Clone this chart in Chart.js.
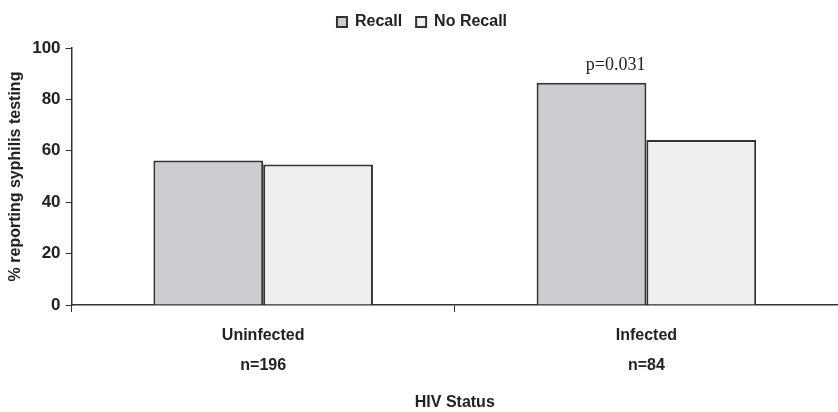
<html>
<head>
    <meta charset="UTF-8">
    <title>Syphilis testing by HIV status</title>
    <script src="https://cdn.jsdelivr.net/npm/chart.js"></script>
    <style>
        body { margin: 0; background: #fff; }
        #wrap { width: 838px; height: 412px; }
    </style>
</head>
<body>
<div id="wrap">
    <canvas id="chart" width="838" height="412"></canvas>
</div>
<script>
    const categories = [["Uninfected", "n=196"], ["Infected", "n=84"]];
    const recallValues = [56.2, 86.5];
    const noRecallValues = [54.7, 64.2];
    const yTicks = [0, 20, 40, 60, 80, 100];
    const pLabel = "p=0.031";

    const narrow = "'Liberation Sans Narrow', 'Arial Narrow', 'Liberation Sans', sans-serif";

    // p-value text over the Infected pair
    const pValuePlugin = {
        id: 'pvalue',
        afterDatasetsDraw(chart) {
            const ctx = chart.ctx;
            const bar = chart.getDatasetMeta(0).data[1];
            const y = chart.scales.y.getPixelForValue(93.3);
            ctx.save();
            ctx.font = "18px 'Liberation Serif', 'Times New Roman', serif";
            ctx.fillStyle = '#222';
            ctx.textAlign = 'center';
            ctx.textBaseline = 'middle';
            ctx.fillText(pLabel, bar.x + bar.width * 0.22, y);
            ctx.restore();
        }
    };

    // a bit more room under the legend
    const legendGap = {
        id: 'legendGap',
        beforeInit(chart) {
            const fit = chart.legend.fit;
            chart.legend.fit = function () {
                fit.bind(chart.legend)();
                this.height += 8;
            };
        }
    };

    new Chart(document.getElementById('chart'), {
        type: 'bar',
        data: {
            labels: categories,
            datasets: [
                {
                    label: 'Recall',
                    data: recallValues,
                    backgroundColor: '#cbcccf',
                    borderColor: '#333',
                    borderWidth: 2
                },
                {
                    label: 'No Recall',
                    data: noRecallValues,
                    backgroundColor: '#eeefef',
                    borderColor: '#333',
                    borderWidth: 2
                }
            ]
        },
        options: {
            responsive: false,
            animation: false,
            layout: {padding: {top: 0, right: 0, left: 6, bottom: 0}},
            datasets: {
                bar: {categoryPercentage: 0.573, barPercentage: 1.0}
            },
            plugins: {
                legend: {
                    position: 'top',
                    labels: {
                        boxWidth: 10,
                        boxHeight: 10,
                        padding: 14,
                        color: '#222',
                        font: {family: narrow, size: 16, weight: 'bold'}
                    }
                },
                tooltip: {enabled: false}
            },
            scales: {
                x: {
                    grid: {display: true, drawOnChartArea: false, tickLength: 7, color: '#333', offset: true},
                    border: {color: '#333', width: 1.5},
                    ticks: {
                        color: '#222',
                        padding: 8,
                        font: {family: narrow, size: 16, weight: 'bold', lineHeight: 1.9}
                    },
                    title: {
                        display: true,
                        text: 'HIV Status',
                        color: '#222',
                        padding: {top: 4, bottom: 0},
                        font: {family: narrow, size: 16, weight: 'bold'}
                    }
                },
                y: {
                    min: 0,
                    max: 100,
                    afterBuildTicks(axis) {
                        axis.ticks = yTicks.map(v => ({value: v}));
                    },
                    grid: {display: true, drawOnChartArea: false, tickLength: 6, color: '#333'},
                    border: {color: '#333', width: 1.5},
                    ticks: {
                        color: '#222',
                        padding: 5,
                        font: {family: narrow, size: 17, weight: 'bold'}
                    },
                    title: {
                        display: true,
                        text: '% reporting syphilis testing',
                        color: '#222',
                        padding: {top: 0, bottom: 2},
                        font: {family: "'Liberation Sans', Arial, sans-serif", size: 16, weight: 'bold'}
                    }
                }
            }
        },
        plugins: [pValuePlugin, legendGap]
    });
</script>
</body>
</html>
